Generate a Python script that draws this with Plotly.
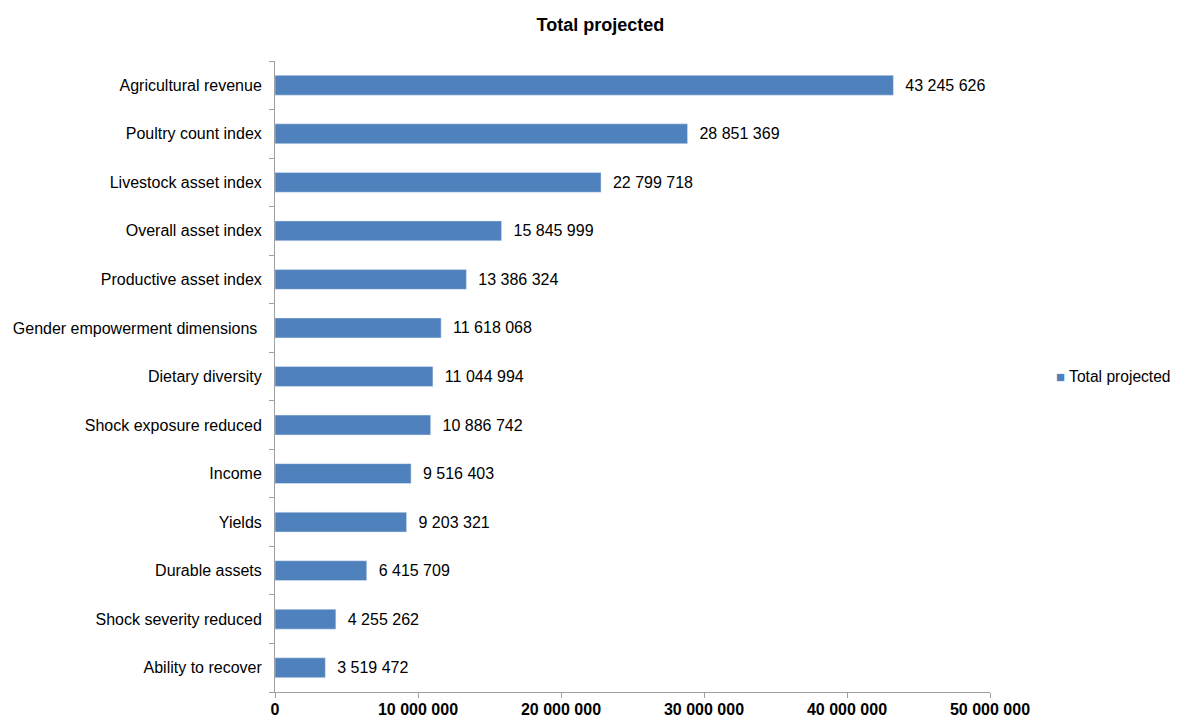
import plotly.graph_objects as go

categories = ["Agricultural revenue", "Poultry count index", "Livestock asset index",
              "Overall asset index", "Productive asset index", "Gender empowerment dimensions ",
              "Dietary diversity", "Shock exposure reduced", "Income", "Yields",
              "Durable assets", "Shock severity reduced", "Ability to recover"]
values = [43245626, 28851369, 22799718, 15845999, 13386324, 11618068,
          11044994, 10886742, 9516403, 9203321, 6415709, 4255262, 3519472]
tick_vals = [0, 10000000, 20000000, 30000000, 40000000, 50000000]
series_name = "Total projected"
bar_color = "#4F81BD"

def fmt(v):
    return f"{v:,}".replace(",", " ")

cats = categories[::-1]
vals = values[::-1]

fig = go.Figure()
fig.add_trace(go.Bar(
    y=cats, x=vals, orientation="h", name=series_name,
    marker=dict(color=bar_color), width=0.41,
    text=["  " + fmt(v) for v in vals], textposition="outside",
    textfont=dict(family="Liberation Sans, Arial", size=16, color="#000000"),
    cliponaxis=False, showlegend=False,
))
fig.update_layout(
    width=1173, height=708,
    paper_bgcolor="white", plot_bgcolor="white",
    margin=dict(l=267, r=191, t=53, b=24, autoexpand=False),
    font=dict(family="Liberation Sans, Arial", size=16, color="#000000"),
    title=dict(text="<b>Total projected</b>", x=0.505, xanchor="center", y=0.976, yanchor="middle",
               font=dict(size=18)),
    showlegend=False,
    annotations=[dict(
        xref="paper", yref="paper", x=1.0895, y=0.5, xanchor="left", yanchor="middle",
        text=f"<span style='color:{bar_color};font-size:15px'>■</span> {series_name}",
        showarrow=False, font=dict(size=15.6),
    )],
)
fig.update_xaxes(range=[0, 50000000], tickvals=tick_vals,
                 ticktext=["<b>" + fmt(v) + "</b>" for v in tick_vals],
                 showgrid=False, showline=True, linecolor="#A0A0A0", linewidth=1,
                 ticks="outside", ticklen=5, tickcolor="#A0A0A0", zeroline=False,
                 tickfont=dict(size=16), automargin=False, ticklabelstandoff=-2)
fig.update_yaxes(type="category", categoryorder="array", categoryarray=cats,
                 showgrid=False, showline=True, linecolor="#A0A0A0", linewidth=1,
                 ticks="outside", ticklen=5, tickcolor="#A0A0A0", tickson="boundaries",
                 tickfont=dict(size=16), ticklabelstandoff=9, automargin=False)
fig.write_html("out.html")
